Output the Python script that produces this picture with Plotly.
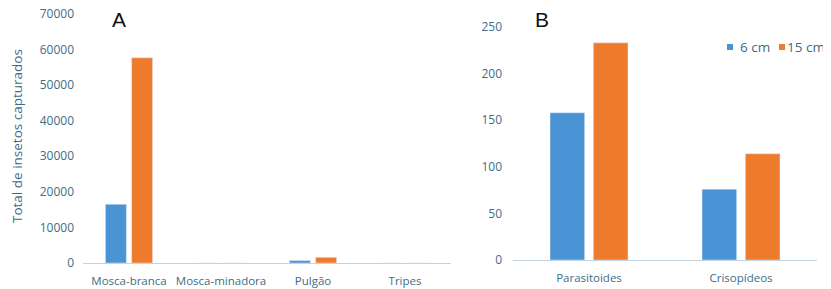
import plotly.graph_objects as go

# Panel A data
cats_a = ["Mosca-branca", "Mosca-minadora", "Pulgão", "Tripes"]
a_6cm = [16500, 0, 700, 0]
a_15cm = [57700, 0, 1600, 0]
yticks_a = [0, 10000, 20000, 30000, 40000, 50000, 60000, 70000]

# Panel B data
cats_b = ["Parasitoides", "Crisopídeos"]
b_6cm = [158, 76]
b_15cm = [233, 114]
yticks_b = [0, 50, 100, 150, 200, 250]

series_names = ["6 cm", "15 cm"]
blue = "#4a94d6"
orange = "#ee7b2c"
txt = "#3d6d86"
W, H = 831, 289
OFF = 8  # page body margin offset
font_family = "Open Sans"

fig = go.Figure()
fig.add_trace(go.Bar(x=cats_a, y=a_6cm, name=series_names[0], marker_color=blue,
                     xaxis="x", yaxis="y", showlegend=False))
fig.add_trace(go.Bar(x=cats_a, y=a_15cm, name=series_names[1], marker_color=orange,
                     xaxis="x", yaxis="y", showlegend=False))
fig.add_trace(go.Bar(x=cats_b, y=b_6cm, name=series_names[0], marker_color=blue,
                     xaxis="x2", yaxis="y2", showlegend=False))
fig.add_trace(go.Bar(x=cats_b, y=b_15cm, name=series_names[1], marker_color=orange,
                     xaxis="x2", yaxis="y2", showlegend=False))

def px(v):
    return (v - OFF) / W

def py(v):
    return (H - (v - OFF)) / H

axis_common = dict(showgrid=False, zeroline=False, ticks="", automargin=False,
                   ticklabeloverflow="allow",
                   tickfont=dict(family=font_family, size=11.5, color=txt))
ytick_font = dict(family=font_family, size=12, color=txt)

legend_font = dict(family=font_family, size=13.5, color=txt)

fig.update_layout(
    width=W, height=H,
    margin=dict(l=0, r=0, t=0, b=0, autoexpand=False),
    paper_bgcolor="white", plot_bgcolor="white",
    barmode="group", bargap=0.43, bargroupgap=0.2,
    font=dict(family=font_family, color=txt),
    showlegend=False,
    xaxis=dict(domain=[px(83), px(451)], anchor="y", showline=True,
               linecolor="#c3d3df", linewidth=1, ticklabelstandoff=7, **axis_common),
    yaxis=dict(domain=[py(263), py(14)], anchor="x", range=[0, 70000],
               tickvals=yticks_a, ticktext=[str(v) for v in yticks_a],
               showline=False, ticklabelstandoff=8,
               **{**axis_common, "tickfont": ytick_font}),
    xaxis2=dict(domain=[px(513), px(817)], anchor="y2", showline=True,
                linecolor="#c3d3df", linewidth=1, ticklabelstandoff=7, **axis_common),
    yaxis2=dict(domain=[py(260), py(27)], anchor="x2", range=[0, 250],
                tickvals=yticks_b, ticktext=[str(v) for v in yticks_b],
                showline=False, ticklabelstandoff=10,
                **{**axis_common, "tickfont": ytick_font}),
    shapes=[
        dict(type="rect", xref="paper", yref="paper", x0=px(727), x1=px(733),
             y0=py(50), y1=py(44), fillcolor=blue, line=dict(width=0)),
        dict(type="rect", xref="paper", yref="paper", x0=px(779), x1=px(785),
             y0=py(50), y1=py(44), fillcolor=orange, line=dict(width=0)),
    ],
    annotations=[
        dict(text="A", x=px(119), y=py(20), xref="paper", yref="paper",
             xanchor="center", yanchor="middle",
             showarrow=False, font=dict(family="Liberation Sans", size=21, color="#111")),
        dict(text="B", x=px(542), y=py(20), xref="paper", yref="paper",
             xanchor="center", yanchor="middle",
             showarrow=False, font=dict(family="Liberation Sans", size=21, color="#111")),
        dict(text="Total de insetos capturados", x=px(17), y=py(136), xref="paper",
             yref="paper", showarrow=False, textangle=-90,
             xanchor="center", yanchor="middle",
             font=dict(family=font_family, size=13.5, color=txt)),
        dict(text=series_names[0], x=px(738), y=py(47), xref="paper", yref="paper",
             xanchor="left", yanchor="middle", showarrow=False, font=legend_font),
        dict(text=series_names[1], x=px(785), y=py(47), xref="paper", yref="paper",
             xanchor="left", yanchor="middle", showarrow=False, font=legend_font),
    ],
)

fig.write_html("out.html")
